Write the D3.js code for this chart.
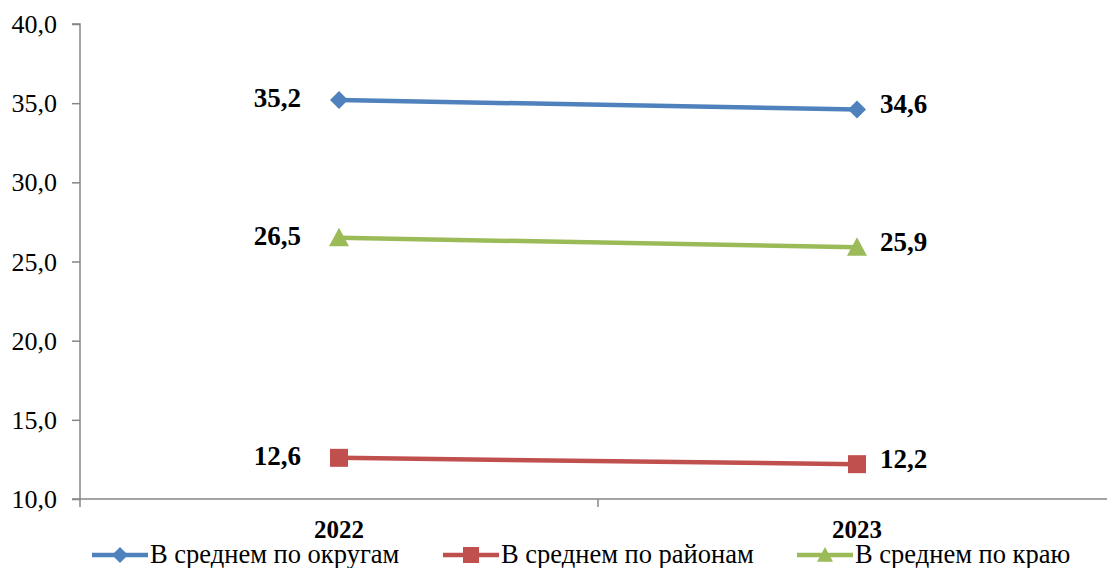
<!DOCTYPE html>
<html><head><meta charset="utf-8">
<script src="https://cdn.jsdelivr.net/npm/d3@7"></script>
<style>
body{margin:0;background:#fff}
svg text{font-family:"Liberation Serif","Times New Roman",Tinos,serif !important;}
</style>
</head><body><svg width="1107" height="568"></svg>
<script>
const categories = ["2022", "2023"];
const seriesNames = ["В среднем по округам", "В среднем по районам", "В среднем по краю"];
const okrugValues = [35.2, 34.6];
const rayonValues = [12.6, 12.2];
const krayValues = [26.5, 25.9];
const yTicks = [10, 15, 20, 25, 30, 35, 40];
const colors = ["#4F81BD", "#C0504D", "#9BBB59"];
const markers = ["diamond", "square", "triangle"];

const series = [okrugValues, rayonValues, krayValues].map((v, i) => ({name: seriesNames[i], values: v, color: colors[i], marker: markers[i]}));

const FONT = '"Liberation Serif", "Times New Roman", Tinos, serif';
const svg = d3.select("svg");
const pLeft = 80, pRight = 1116, pTop = 24, pBottom = 499, axisEnd = 1107;
const y = d3.scaleLinear().domain([10, 40]).range([pBottom, pTop]);
const x = d3.scaleBand().domain(categories).range([pLeft, pRight]);
const xc = c => x(c) + x.bandwidth() / 2;
const fmt = v => d3.format(".1f")(v).replace(".", ",");

// y axis
const yAxis = d3.axisLeft(y).tickValues(yTicks).tickSize(8).tickFormat(fmt);
const gy = svg.append("g").attr("transform", `translate(${pLeft},0)`).call(yAxis);
gy.attr("font-family", null).attr("font-size", null);
gy.select(".domain").attr("stroke", "#868686").attr("stroke-width", 1.5).attr("d", `M-8,${pTop}H0V${pBottom}`);
gy.selectAll(".tick line").attr("stroke", "#868686").attr("stroke-width", 1.5);
gy.selectAll(".tick text").style("font-family", FONT).style("font-size", "26px").attr("fill", "#000").attr("x", -23).attr("dy", "0.33em");

// x axis
const gx = svg.append("g").attr("transform", `translate(0,${pBottom})`);
gx.append("line").attr("x1", pLeft - 8).attr("x2", axisEnd).attr("y1", 0).attr("y2", 0).attr("stroke", "#868686").attr("stroke-width", 1.5);
const bounds = [pLeft, ...categories.slice(1).map(c => x(c))];
gx.selectAll(".xt").data(bounds).join("line").attr("x1", d => d).attr("x2", d => d).attr("y1", 0).attr("y2", 8).attr("stroke", "#868686").attr("stroke-width", 1.5);
gx.selectAll(".xl").data(categories).join("text").attr("x", d => xc(d)).attr("y", 39).attr("text-anchor", "middle")
  .style("font-family", FONT).style("font-size", "25px").style("font-weight", "bold").text(d => d);

function drawMarker(g, type, cx, cy, color, s) {
  if (type === "diamond") {
    g.append("path").attr("d", `M${cx},${cy - s}L${cx + s},${cy}L${cx},${cy + s}L${cx - s},${cy}Z`).attr("fill", color);
  } else if (type === "square") {
    g.append("rect").attr("x", cx - s).attr("y", cy - s).attr("width", 2 * s).attr("height", 2 * s).attr("fill", color);
  } else {
    g.append("path").attr("d", `M${cx},${cy - s}L${cx + s},${cy + s * 0.85}L${cx - s},${cy + s * 0.85}Z`).attr("fill", color);
  }
}
const msize = {diamond: 9, square: 9, triangle: 10};

const line = d3.line().x((d, i) => xc(categories[i])).y(d => y(d));
series.forEach(s => {
  const g = svg.append("g");
  g.append("path").attr("d", line(s.values)).attr("fill", "none").attr("stroke", s.color).attr("stroke-width", 4.5);
  s.values.forEach((v, i) => {
    drawMarker(g, s.marker, xc(categories[i]), y(v), s.color, msize[s.marker]);
    const first = i === 0;
    const lx = first ? xc(categories[i]) - 38 : xc(categories[i]) + 23;
    g.append("text").attr("x", lx).attr("y", y(v) + (first ? -2 : -5)).attr("dy", "0.33em").attr("text-anchor", first ? "end" : "start")
      .style("font-family", FONT).style("font-size", "27px").style("font-weight", "bold").text(fmt(v));
  });
});

// legend
const legendX = [92, 443, 797];
const lg = svg.append("g").attr("transform", "translate(0,555)");
series.forEach((s, i) => {
  const x0 = legendX[i];
  lg.append("line").attr("x1", x0).attr("x2", x0 + 56).attr("y1", 0).attr("y2", 0).attr("stroke", s.color).attr("stroke-width", 4.5);
  drawMarker(lg, s.marker, x0 + 28, 0, s.color, 8);
  lg.append("text").attr("x", x0 + 58).attr("y", 8).style("font-family", FONT).style("font-size", "26.5px").text(s.name);
});
</script></body></html>
